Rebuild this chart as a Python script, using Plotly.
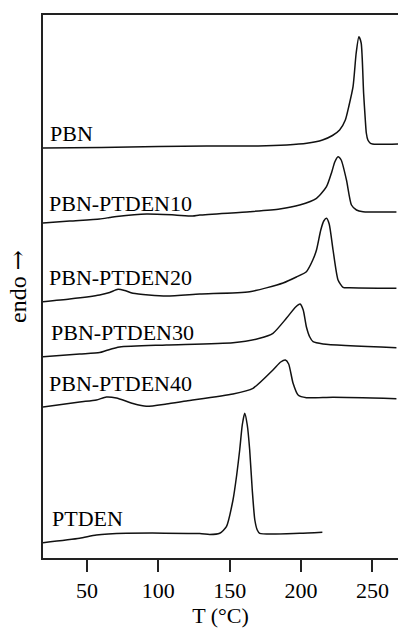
import plotly.graph_objects as go

# ---- data (T in °C, heat-flow signal in arbitrary stacked units) ----
names = ["PBN", "PBN-PTDEN10", "PBN-PTDEN20", "PBN-PTDEN30", "PBN-PTDEN40", "PTDEN"]

t_pbn = [19, 60, 100, 134, 170, 190, 204, 215, 222, 227, 231, 233.5, 236.4, 238.6, 240.5,
         242.1, 243.8, 245.0, 245.7, 246.8, 248.6, 252.8, 268]
y_pbn = [410, 410.5, 411.5, 412, 412, 413, 414.7, 418, 422.5, 428, 438, 452, 471.3, 505, 521.3,
         515, 465, 438, 425, 418, 414.7, 413.7, 414]

t_10 = [19.2, 37.9, 58.9, 65.9, 70.8, 91.8, 111.5, 124.1, 129.0, 164.0, 185.0, 199.0, 210.8,
        217.8, 221.5, 223.6, 225.9, 228.1, 231.8, 235.3, 238.8, 243.4, 266.8]
y_10 = [335, 337, 339, 340.5, 341.5, 344, 343, 342, 343, 346.3, 349, 353, 359.7,
        371.3, 386, 396, 401.3, 398, 378, 353, 348, 346.3, 346]

t_20 = [19.2, 37.9, 58.9, 65.9, 71.7, 76.4, 82.2, 105.6, 129.0, 164.0, 187.4, 196.7, 203.7,
        208.2, 210.8, 213.8, 215.9, 217.8, 219.7, 222.4, 225.9, 229.4, 234.1, 266.8]
y_20 = [256.3, 259, 263, 265.5, 268.7, 267.5, 264.7, 262, 264, 266.3, 275, 281, 286.3,
        298, 308, 328, 337, 339.7, 334, 308, 278, 270.7, 270.3, 269.7]

t_30 = [19.2, 44.9, 58.9, 63.6, 72.9, 105.6, 152.3, 171.0, 180.3, 189.7, 196.2, 199.3, 201.5,
        203.7, 206.1, 208.4, 215.4, 266.8]
y_30 = [201.3, 204, 205.5, 207.5, 211, 213, 215.3, 219.7, 224.7, 239.7, 251, 254, 248,
        231.3, 221, 216.3, 214, 210.3]

t_40 = [19.2, 44.9, 56.6, 63.6, 70.6, 82.2, 91.6, 105.6, 119.6, 152.3, 166.3, 180.3, 185.7,
        189.0, 191.3, 194.4, 197.9, 203.7, 222.4, 266.8]
y_40 = [151, 156, 158, 161, 160, 154.5, 151.7, 154, 157, 164, 169.7, 188, 196,
        198, 194, 174.7, 163, 160.3, 160.7, 159.3]

t_ptden = [19.2, 44.9, 56.6, 77.6, 129.0, 136.0, 143.0, 147.7, 152.3, 154.9, 157.0, 158.8,
           160.5, 162.3, 164.0, 165.8, 167.6, 169.3, 171.0, 199.0, 214.9]
y_ptden = [15.3, 19.7, 23, 24.7, 24.5, 23.5, 24.7, 31.3, 58, 83, 108, 133,
           144.7, 133, 108, 68, 38, 28, 24.7, 24.7, 25.7]

# label anchor positions (T, stacked units)
label_t = [23.6, 23.0, 23.0, 24.4, 23.0, 25.1]
label_y = [425, 355, 280.5, 225.5, 175, 39.5]

x_ticks = [50, 100, 150, 200, 250]

series = [(t_pbn, y_pbn), (t_10, y_10), (t_20, y_20), (t_30, y_30), (t_40, y_40), (t_ptden, y_ptden)]

FONT = "Liberation Serif, Times New Roman, serif"
INK = "#000000"

fig = go.Figure()
for (t, y), n in zip(series, names):
    fig.add_trace(go.Scatter(x=t, y=y, mode="lines", name=n,
                             line=dict(color="#111111", width=1.5, shape="spline", smoothing=0.6),
                             showlegend=False, hoverinfo="skip"))

for n, lx, ly in zip(names, label_t, label_y):
    fig.add_annotation(x=lx, y=ly, xref="x", yref="y", text=n, showarrow=False,
                       xanchor="left", yanchor="middle", borderpad=0,
                       font=dict(family=FONT, size=22, color=INK))

fig.update_layout(
    width=398, height=628,
    margin=dict(l=43, r=0, t=15, b=70),
    paper_bgcolor="white", plot_bgcolor="white",
    font=dict(family=FONT, size=22, color=INK),
    xaxis=dict(range=[19.2, 267.9], tickvals=x_ticks, ticks="outside", ticklen=12, tickwidth=1.5,
               tickcolor="#222222", showline=True, linecolor="#222222", linewidth=1.5, mirror=True,
               showgrid=False, zeroline=False,
               title=dict(text="T (°C)", standoff=2, font=dict(family=FONT, size=22, color=INK)),
               tickfont=dict(family=FONT, size=22, color=INK)),
    yaxis=dict(range=[0, 543], showticklabels=False, ticks="", showline=True, linecolor="#222222",
               linewidth=1.5, mirror=False, showgrid=False, zeroline=False,
               title=dict(text="endo <span style='font-family:DejaVu Serif'>→</span>", standoff=8,
                          font=dict(family=FONT, size=24, color=INK))),
)

fig.write_html("out.html")
